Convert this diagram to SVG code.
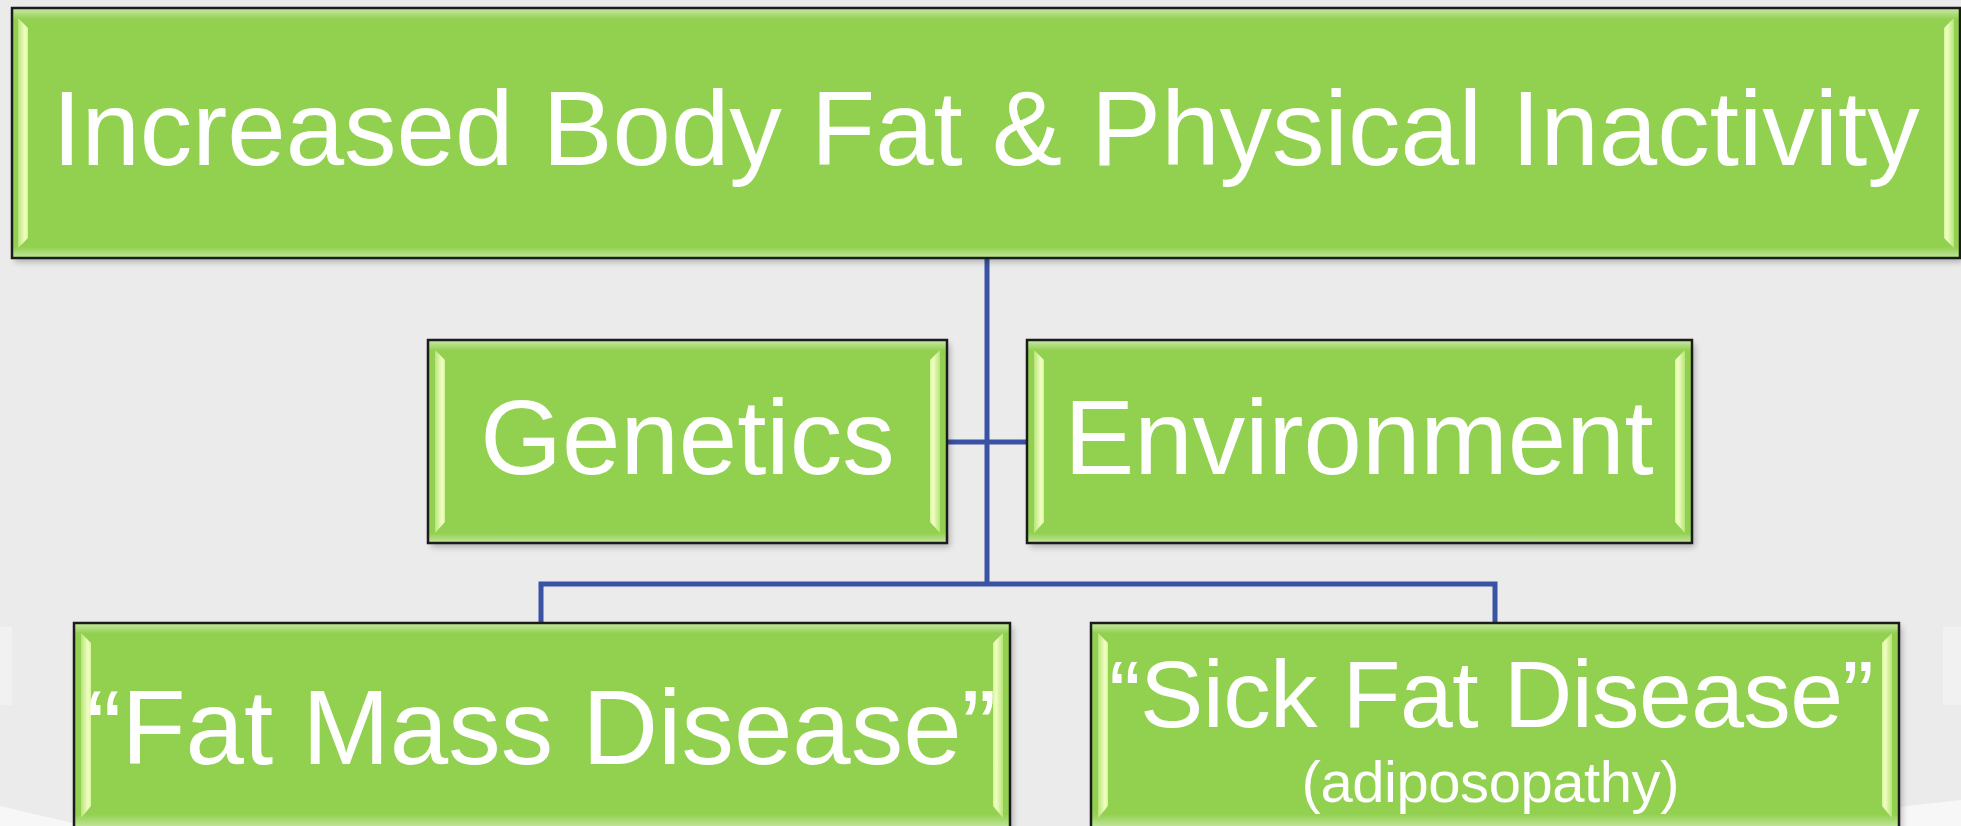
<svg xmlns="http://www.w3.org/2000/svg" width="1961" height="826" viewBox="0 0 1961 826">
<style>
.box{fill:#92d050;stroke:#1c1c1c;stroke-width:2.5}
.lbl{font-family:"Liberation Sans",Arial,sans-serif;fill:#ffffff;text-anchor:middle}
.conn{stroke:#3a52a3;stroke-width:5;fill:none}
.tb{fill:url(#topband)}
.bb{fill:url(#botband)}
.ls{fill:url(#lstrip)}
.rs{fill:url(#rstrip)}
</style>
<defs>
<filter id="sh" x="-5%" y="-5%" width="110%" height="120%">
<feGaussianBlur stdDeviation="3"/>
</filter>
<linearGradient id="topband" x1="0" y1="0" x2="0" y2="1">
<stop offset="0" stop-color="#ffffff" stop-opacity="0.45"/>
<stop offset="1" stop-color="#ffffff" stop-opacity="0"/>
</linearGradient>
<linearGradient id="botband" x1="0" y1="0" x2="0" y2="1">
<stop offset="0" stop-color="#ffffff" stop-opacity="0"/>
<stop offset="1" stop-color="#ffffff" stop-opacity="0.4"/>
</linearGradient>
<linearGradient id="lstrip" x1="0" y1="0" x2="1" y2="0">
<stop offset="0" stop-color="#b8e47a"/>
<stop offset="0.7" stop-color="#f2ffc4"/>
<stop offset="1" stop-color="#d8f59a"/>
</linearGradient>
<linearGradient id="rstrip" x1="1" y1="0" x2="0" y2="0">
<stop offset="0" stop-color="#b8e47a"/>
<stop offset="0.7" stop-color="#f2ffc4"/>
<stop offset="1" stop-color="#d8f59a"/>
</linearGradient>
</defs>
<rect width="1961" height="826" fill="#ebebeb"/>
<rect x="0" y="627" width="12" height="78" fill="#f1f1f1"/>
<rect x="1943" y="627" width="18" height="78" fill="#f1f1f1"/>
<polygon points="0,806 85,826 0,826" fill="#f7f7f7"/>
<polygon points="1899,807 1961,800 1961,826 1899,826" fill="#f7f7f7"/>

<g id="connectors">
<line class="conn" x1="987" y1="258" x2="987" y2="584"/>
<line class="conn" x1="947" y1="442" x2="987" y2="442"/>
<line class="conn" x1="987" y1="442" x2="1027" y2="442"/>
<polyline class="conn" points="541,623 541,584 1495,584 1495,623"/>
</g>

<g id="node-top">
<rect x="15" y="12" width="1948" height="250" fill="#000" opacity="0.25" filter="url(#sh)"/>
<rect class="box" x="12" y="8" width="1948" height="250"/>
<rect class="tb" x="13.5" y="9.5" width="1945" height="10"/>
<rect class="bb" x="13.5" y="247" width="1945" height="9.5"/>
<polygon class="ls" points="18,18 28,28 28,238 18,248"/>
<polygon class="rs" points="1954,18 1944,28 1944,238 1954,248"/>
<text class="lbl" x="986" y="165" font-size="105">Increased Body Fat &amp; Physical Inactivity</text>
</g>

<g id="node-genetics">
<rect x="431" y="344" width="519" height="203" fill="#000" opacity="0.25" filter="url(#sh)"/>
<rect class="box" x="428" y="340" width="519" height="203"/>
<rect class="tb" x="429.5" y="341.5" width="516" height="9"/>
<rect class="bb" x="429.5" y="533" width="516" height="8.5"/>
<polygon class="ls" points="435,350 445,360 445,522 435,533"/>
<polygon class="rs" points="940,350 930,360 930,522 940,533"/>
<text class="lbl" x="687.5" y="474" font-size="105">Genetics</text>
</g>

<g id="node-environment">
<rect x="1030" y="344" width="665" height="203" fill="#000" opacity="0.25" filter="url(#sh)"/>
<rect class="box" x="1027" y="340" width="665" height="203"/>
<rect class="tb" x="1028.5" y="341.5" width="662" height="9"/>
<rect class="bb" x="1028.5" y="533" width="662" height="8.5"/>
<polygon class="ls" points="1034,350 1044,360 1044,522 1034,533"/>
<polygon class="rs" points="1685,350 1675,360 1675,522 1685,533"/>
<text class="lbl" x="1359" y="474" font-size="105">Environment</text>
</g>

<g id="node-fatmass">
<rect x="77" y="627" width="936" height="210" fill="#000" opacity="0.25" filter="url(#sh)"/>
<rect class="box" x="74" y="623" width="936" height="210"/>
<rect class="tb" x="75.5" y="624.5" width="933" height="9"/>
<rect class="bb" x="75.5" y="814" width="933" height="12"/>
<polygon class="ls" points="81,633 91,643 91,806 81,818"/>
<polygon class="rs" points="1003,633 993,643 993,806 1003,818"/>
<text class="lbl" x="541.5" y="764" font-size="105" textLength="910" lengthAdjust="spacing">“Fat Mass Disease”</text>
</g>

<g id="node-sickfat">
<rect x="1094" y="627" width="808" height="210" fill="#000" opacity="0.25" filter="url(#sh)"/>
<rect class="box" x="1091" y="623" width="808" height="210"/>
<rect class="tb" x="1092.5" y="624.5" width="805" height="9"/>
<rect class="bb" x="1092.5" y="814" width="805" height="12"/>
<polygon class="ls" points="1098,633 1108,643 1108,806 1098,818"/>
<polygon class="rs" points="1892,633 1882,643 1882,806 1892,818"/>
<text class="lbl" x="1491.5" y="727" font-size="95" textLength="765" lengthAdjust="spacing">“Sick Fat Disease”</text>
<text class="lbl" x="1490.5" y="802" font-size="58" textLength="378" lengthAdjust="spacing">(adiposopathy)</text>
</g>
</svg>
